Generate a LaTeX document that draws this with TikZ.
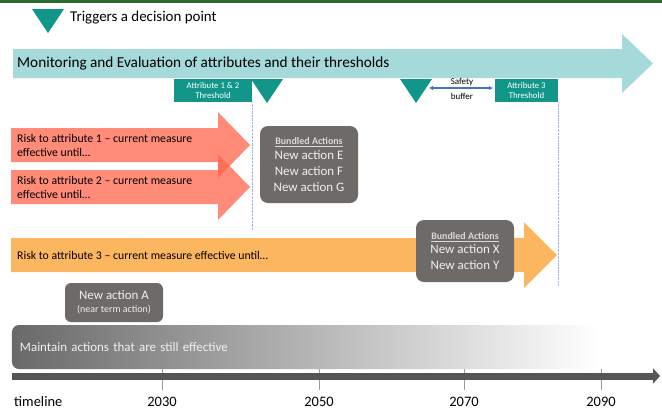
\documentclass[tikz,border=0pt]{standalone}
\usepackage{fontspec}
\setmainfont{Carlito}
\usetikzlibrary{arrows.meta, positioning}

\definecolor{bandeau}{RGB}{43,106,46}
\definecolor{sarcelle}{RGB}{18,150,138}
\definecolor{sarcelleclair}{RGB}{166,217,218}
\definecolor{saumon}{RGB}{255,100,75}
\definecolor{orangeclair}{RGB}{253,182,96}
\definecolor{boite}{RGB}{109,106,103}
\definecolor{bleu}{RGB}{68,114,196}
\definecolor{pointille}{RGB}{160,180,230}
\definecolor{barre}{RGB}{85,85,85}

\newcommand{\entete}{{\fontsize{10}{11}\bfseries\color{white!85!black}\underline{Bundled Actions}}}

\begin{document}
\begin{tikzpicture}[
    x=1bp, y=-1bp,
    font=\fontsize{15}{17}\selectfont,
    declencheur/.pic = {\fill[sarcelle] (-16,0) -- (16,0) -- (0,24) -- cycle;},
    seuil/.style = {rectangle, fill=sarcelle, text=white, align=center, minimum height=23bp, inner sep=0pt, font=\fontsize{8.8}{10}\selectfont},
    bundle/.style = {rectangle, rounded corners=8bp, fill=boite, text=white!94!black, align=center, inner sep=0pt, font=\fontsize{13}{16}\selectfont},
    risque/.style = {anchor=west, align=left, inner sep=0pt, font=\fontsize{11.8}{14}\selectfont},
    repere/.style = {draw=pointille, densely dotted, thin},
    annee/.style = {inner sep=0pt, font=\fontsize{14.5}{16}\selectfont},
    petit/.style = {inner sep=0pt, font=\fontsize{9}{10}\selectfont},
]
    \useasboundingbox (0,0) rectangle (662,411);
    \fill[bandeau] (0,0) rectangle (662,3);

    % légende
    \pic at (48,9) {declencheur};
    \node[anchor=west, inner sep=0pt] (legende) at (70,18) {Triggers a decision point};

    % suivi et évaluation
    \fill[sarcelleclair] (13,49) -- (622,49) -- (622,34) -- (653,63.5) -- (622,93) -- (622,78) -- (13,78) -- cycle;
    \node[anchor=west, inner sep=0pt, font=\fontsize{15.3}{17}\selectfont] (suivi) at (17,63.5) {Monitoring and Evaluation of attributes and their thresholds};

    % seuils et points de décision
    \node[seuil, minimum width=78bp] (seuil12) at (213,90.5) {Attribute 1 \& 2\\Threshold};
    \node[seuil, minimum width=63bp] (seuil3) at (526.5,90.5) {Attribute 3\\Threshold};
    \pic at (267,79) {declencheur};
    \pic at (416,79) {declencheur};
    \coordinate (tampon-g) at (429,88);
    \coordinate (tampon-d) at (493,88);
    \draw[bleu, line width=1.3bp, {Latex[length=4bp,width=4.5bp]}-{Latex[length=4bp,width=4.5bp]}] (tampon-g) -- (tampon-d);
    \node[petit] (securite) at (462,82) {Safety};
    \node[petit] (tampon) at (462,96.5) {buffer};

    % risques par attribut
    \begin{scope}[fill opacity=.75]
        \fill[saumon] (11,128) -- (218,128) -- (218,112) -- (250,145) -- (218,178) -- (218,162) -- (11,162) -- cycle;
        \fill[saumon] (11,170) -- (218,170) -- (218,154) -- (250,187) -- (218,220) -- (218,204) -- (11,204) -- cycle;
    \end{scope}
    \fill[orangeclair] (11,238) -- (524,238) -- (524,222) -- (557,255) -- (524,288) -- (524,272) -- (11,272) -- cycle;
    \node[risque] (risque1) at (17,145) {Risk to attribute 1 – current measure\\effective until…};
    \node[risque] (risque2) at (17,187) {Risk to attribute 2 – current measure\\effective until…};
    \node[risque] (risque3) at (17,255) {Risk to attribute 3 – current measure effective until…};

    \draw[repere] (seuil12.south east) -- ++(0,128);
    \draw[repere] (seuil3.south east) -- ++(0,183);

    % actions
    \node[bundle, minimum width=98bp, minimum height=77bp] (groupe1) at (309,164.5)
        {\entete\\[-1.5bp] New action E\\New action F\\New action G};
    \node[bundle, minimum width=98bp, minimum height=62bp] (groupe2) at (465,251)
        {\entete\\[-1.5bp] New action X\\New action Y};
    \node[bundle, rounded corners=6bp, minimum width=98bp, minimum height=39bp] (actionA) at (114,302.5)
        {New action A\\[-3bp] {\fontsize{10}{11}\selectfont (near term action)}};

    \node[rounded corners=7bp, left color={rgb,255:red,105;green,105;blue,105}, middle color={rgb,255:red,205;green,205;blue,205}, right color=white,
          text width=570bp, inner xsep=8bp, inner ysep=0pt, minimum height=44bp, align=left, text=white!94!black, font=\fontsize{13}{15}\selectfont] (maintien) at (305,347)
        {Maintain actions that are still effective};

    % ligne du temps
    \foreach \an/\x in {2030/162, 2050/319, 2070/464, 2090/601} {
        \draw[black!40, line width=.6bp] (\x,369) -- (\x,390);
        \node[annee] (an-\an) at (\x,402) {\an};
    }
    \coordinate (debut) at (12,376);
    \coordinate (fin) at (660,376);
    \draw[barre, line width=7bp, -{Triangle[length=7bp,width=15bp]}] (debut) -- (fin);
    \node[annee, anchor=west] (temps) at (14,402) {timeline};
\end{tikzpicture}
\end{document}
